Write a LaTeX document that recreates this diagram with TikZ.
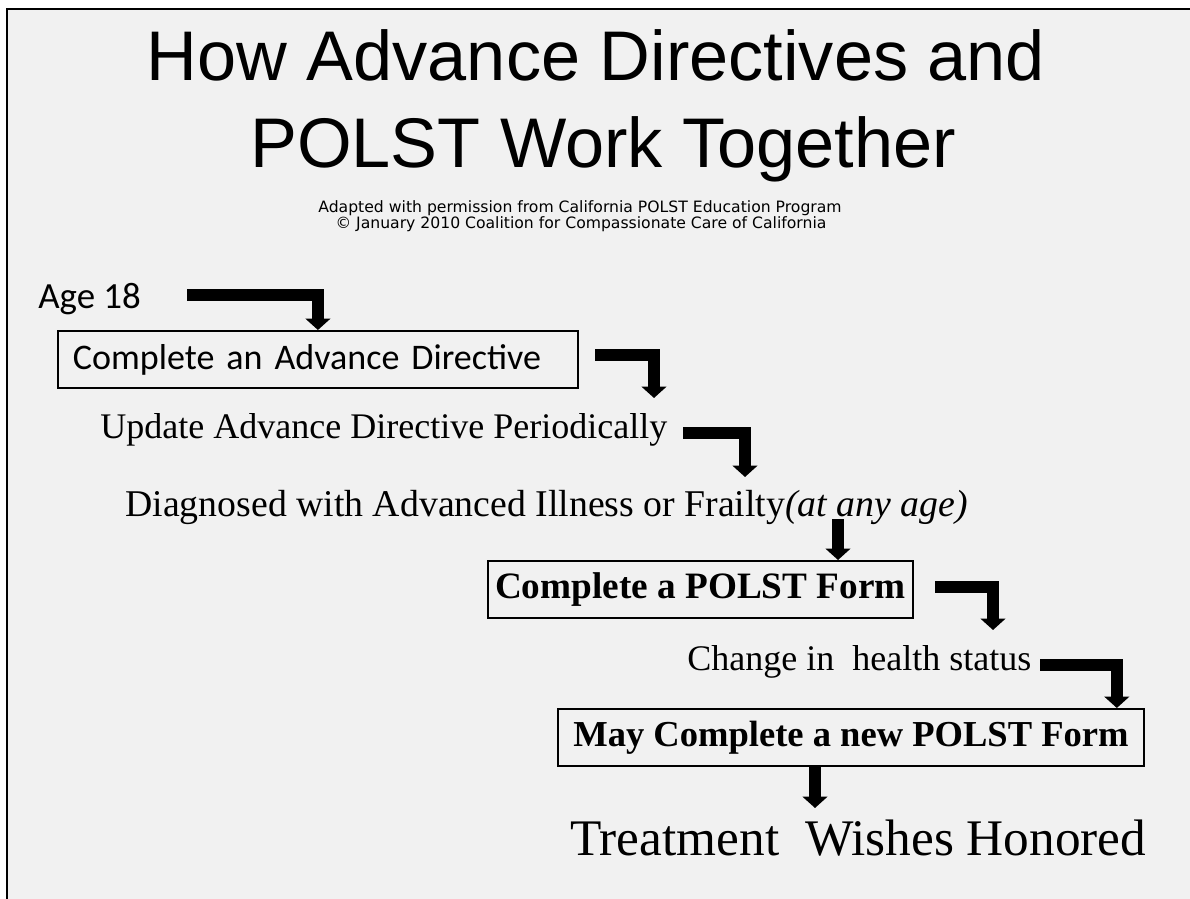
\documentclass[tikz,border=0pt]{standalone}
\usepackage{fontspec}
\setmainfont{Liberation Serif}
\newfontfamily\headfont{Liberation Sans}
\newfontfamily\notefont{DejaVu Sans}
\newfontfamily\calfont{Carlito}
\usetikzlibrary{arrows.meta}
\definecolor{slidebg}{HTML}{F1F1F1}
\tikzset{
  stepbox/.style={draw, line width=1.1pt, anchor=north west,
    inner xsep=0pt, inner ysep=0pt, minimum height=1.14cm},
  plain/.style={anchor=base west, inner sep=0pt},
  fatarrow/.style={line width=6.8pt,
    -{Triangle[width=14pt,length=6.5pt]}},
}
\begin{document}
\begin{tikzpicture}[x=0.02cm, y=-0.02cm]
    \useasboundingbox (0,0) rectangle (1190,899);
    \fill[white] (0,0) rectangle (1190,899);
    \fill[slidebg] (7,9) rectangle (1190,899);
    \draw[line width=1.6pt] (7,899) -- (7,9) -- (1190,9);

    % title and note
    \node[anchor=base, inner sep=0pt, font=\headfont\fontsize{40}{48}\selectfont] (title1) at (596,80)
        {How Advance Directives and};
    \node[anchor=base, inner sep=0pt, font=\headfont\fontsize{40}{48}\selectfont] (title2) at (603,167)
        {POLST Work Together};
    \node[anchor=base, inner sep=0pt, font=\notefont\fontsize{8.9}{10}\selectfont] (note1) at (580,212)
        {Adapted with permission from California POLST Education Program};
    \node[anchor=base, inner sep=0pt, font=\notefont\fontsize{8.9}{10}\selectfont] (note2) at (581,228)
        {\textcopyright{} January 2010 Coalition for Compassionate Care of California};

    % steps
    \node[plain, font=\calfont\fontsize{21}{24}\selectfont] (age) at (38,308) {Age 18};
    \node[stepbox, inner xsep=0.3cm, text width=9.8cm, align=left,
          font=\calfont\fontsize{20.5}{24}\selectfont] (adbox) at (57,330)
        {Complete an Advance Directive};
    \node[plain, font=\fontsize{20.5}{24}\selectfont] (upd) at (100,438) {Update Advance Directive Periodically};
    \node[plain, font=\fontsize{21.5}{24}\selectfont] (diag) at (125,516)
        {Diagnosed with Advanced Illness or Frailty\textit{(at any age)}};
    \node[stepbox, minimum width=8.5cm, font=\fontsize{21.2}{24}\selectfont\bfseries] (polst) at (487,560)
        {Complete a POLST Form};
    \node[plain, font=\fontsize{20.5}{24}\selectfont] (chg) at (687,670) {Change in\ \ health status};
    \node[stepbox, minimum width=11.72cm, font=\fontsize{20.8}{24}\selectfont\bfseries] (newpolst) at (557,708)
        {May Complete a new POLST Form};
    \node[plain, font=\fontsize{29.2}{34}\selectfont] (honor) at (570,855) {Treatment\ \ Wishes Honored};

    % arrow ends
    \coordinate (s1) at (187,295);
    \coordinate (s2) at (595,355);
    \coordinate (t2) at (654,398);
    \coordinate (s3) at (683,433);
    \coordinate (t3) at (745,477);
    \coordinate (s4) at (838,519);
    \coordinate (s5) at (935,587);
    \coordinate (t5) at (993,630);
    \coordinate (s6) at (1040,665);

    % arrows
    \draw[fatarrow] (s1) -| (adbox.north);
    \draw[fatarrow] (s2) -| (t2);
    \draw[fatarrow] (s3) -| (t3);
    \draw[fatarrow] (s4) -- (s4 |- polst.north);
    \draw[fatarrow] (s5) -| (t5);
    \draw[fatarrow] (s6) -| ([xshift=-0.56cm]newpolst.north east);
    \draw[fatarrow] (815,765) -- (815,808);
\end{tikzpicture}
\end{document}
